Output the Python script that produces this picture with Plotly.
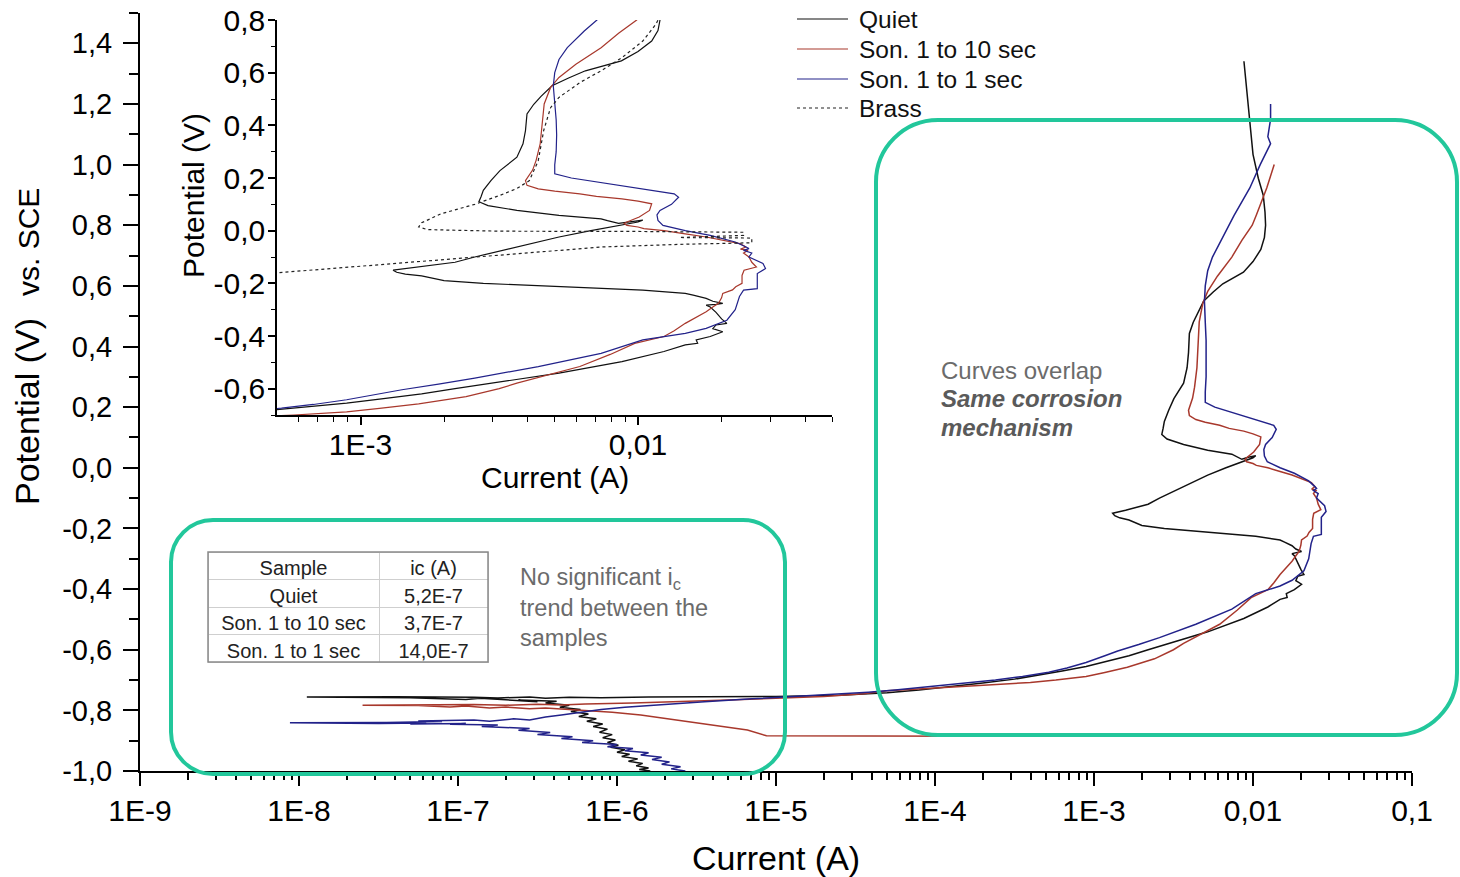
import plotly.graph_objects as go

W, H = 1460, 877

# ---------------- data: (potential V vs SCE, current A) in scan order ----------------
quiet = [
    (-1.000, 1.62e-6), (-0.995, 1.38e-6), (-0.990, 1.58e-6), (-0.983, 1.32e-6), (-0.975, 1.45e-6),
    (-0.968, 1.18e-6), (-0.960, 1.35e-6), (-0.952, 1.07e-6), (-0.945, 1.20e-6), (-0.938, 1.00e-6),
    (-0.930, 1.12e-6), (-0.922, 9.12e-7), (-0.915, 1.02e-6), (-0.906, 8.71e-7), (-0.898, 9.77e-7),
    (-0.890, 8.13e-7), (-0.880, 9.33e-7), (-0.872, 7.76e-7), (-0.862, 8.71e-7), (-0.853, 7.08e-7),
    (-0.845, 8.13e-7), (-0.836, 6.46e-7), (-0.828, 7.41e-7), (-0.820, 5.75e-7), (-0.812, 6.61e-7),
    (-0.804, 5.13e-7), (-0.797, 5.89e-7), (-0.790, 4.37e-7), (-0.783, 5.01e-7), (-0.776, 3.55e-7),
    (-0.770, 4.17e-7), (-0.766, 2.40e-7), (-0.772, 3.16e-7), (-0.762, 1.66e-7), (-0.768, 2.19e-7),
    (-0.760, 1.38e-7), (-0.764, 1.12e-7), (-0.758, 5.01e-8), (-0.756, 1.12e-8), (-0.755, 3.98e-8),
    (-0.757, 1.26e-7), (-0.759, 1.78e-7), (-0.756, 2.82e-7), (-0.760, 3.55e-7), (-0.757, 5.01e-7),
    (-0.758, 7.94e-7), (-0.756, 1.58e-6), (-0.755, 3.98e-6), (-0.754, 1.00e-5), (-0.750, 2.51e-5),
    (-0.742, 5.01e-5), (-0.733, 7.94e-5), (-0.722, 1.26e-4), (-0.710, 2.00e-4), (-0.697, 3.16e-4),
    (-0.684, 4.47e-4), (-0.670, 6.31e-4), (-0.655, 8.91e-4), (-0.640, 1.17e-3), (-0.620, 1.66e-3),
    (-0.600, 2.19e-3), (-0.575, 3.16e-3), (-0.541, 5.19e-3), (-0.497, 8.75e-3),
    (-0.459, 1.24e-2), (-0.434, 1.48e-2), (-0.428, 1.64e-2), (-0.415, 1.62e-2), (-0.402, 1.82e-2),
    (-0.384, 2.02e-2), (-0.372, 1.86e-2), (-0.358, 1.91e-2), (-0.352, 2.09e-2), (-0.335, 2.00e-2),
    (-0.310, 1.91e-2), (-0.290, 1.82e-2), (-0.283, 1.76e-2), (-0.280, 1.91e-2), (-0.276, 2.02e-2),
    (-0.268, 1.86e-2), (-0.257, 1.76e-2), (-0.245, 1.58e-2), (-0.238, 1.48e-2), (-0.226, 1.04e-2),
    (-0.213, 5.19e-3), (-0.205, 3.55e-3), (-0.200, 2.77e-3), (-0.190, 2.00e-3), (-0.172, 1.66e-3),
    (-0.165, 1.45e-3), (-0.158, 1.35e-3), (-0.150, 1.31e-3), (-0.140, 1.58e-3), (-0.120, 2.19e-3),
    (-0.100, 2.58e-3), (-0.062, 3.66e-3), (-0.024, 5.19e-3), (0.000, 6.76e-3), (0.020, 8.71e-3),
    (0.033, 1.00e-2), (0.040, 1.04e-2), (0.035, 9.33e-3), (0.028, 8.51e-3), (0.038, 7.76e-3),
    (0.045, 7.36e-3), (0.058, 5.19e-3), (0.077, 3.66e-3), (0.095, 2.88e-3), (0.110, 2.67e-3),
    (0.130, 2.72e-3), (0.153, 2.77e-3), (0.190, 2.95e-3), (0.228, 3.18e-3), (0.279, 3.66e-3),
    (0.330, 3.85e-3), (0.380, 3.93e-3), (0.443, 3.98e-3), (0.480, 4.21e-3), (0.510, 4.47e-3),
    (0.550, 4.90e-3), (0.580, 5.62e-3), (0.607, 6.46e-3), (0.645, 8.71e-3), (0.680, 1.00e-2),
    (0.720, 1.12e-2), (0.760, 1.18e-2), (0.800, 1.20e-2), (0.843, 1.19e-2), (0.899, 1.16e-2),
    (0.955, 1.08e-2), (1.034, 1.00e-2), (1.148, 9.55e-3), (1.262, 9.12e-3), (1.341, 8.77e-3),
]

son_1_to_10 = [
    (-0.885, 1.82e-4), (-0.885, 3.98e-5), (-0.884, 8.71e-6), (-0.865, 6.61e-6), (-0.848, 3.98e-6),
    (-0.832, 2.51e-6), (-0.815, 1.41e-6), (-0.806, 9.33e-7), (-0.800, 6.31e-7), (-0.797, 4.79e-7),
    (-0.792, 3.55e-7), (-0.795, 2.82e-7), (-0.789, 2.00e-7), (-0.792, 1.58e-7), (-0.786, 1.12e-7),
    (-0.789, 8.91e-8), (-0.784, 5.62e-8), (-0.783, 2.51e-8), (-0.782, 6.31e-8), (-0.781, 1.26e-7),
    (-0.783, 2.00e-7), (-0.780, 3.16e-7), (-0.782, 4.47e-7), (-0.779, 6.31e-7), (-0.776, 1.26e-6),
    (-0.772, 2.51e-6), (-0.766, 5.01e-6), (-0.760, 1.00e-5), (-0.754, 2.00e-5), (-0.745, 3.55e-5),
    (-0.735, 5.01e-5), (-0.728, 8.91e-5), (-0.722, 1.41e-4), (-0.715, 2.51e-4), (-0.708, 3.98e-4),
    (-0.700, 5.75e-4), (-0.688, 8.91e-4), (-0.675, 1.17e-3), (-0.658, 1.62e-3), (-0.630, 2.40e-3),
    (-0.600, 3.16e-3), (-0.579, 3.66e-3), (-0.550, 4.68e-3), (-0.516, 6.17e-3),
    (-0.470, 7.94e-3), (-0.428, 9.73e-3), (-0.402, 1.24e-2), (-0.380, 1.35e-2), (-0.352, 1.48e-2),
    (-0.330, 1.62e-2), (-0.308, 1.76e-2), (-0.290, 1.86e-2), (-0.276, 1.95e-2), (-0.255, 2.00e-2),
    (-0.238, 2.02e-2), (-0.225, 2.19e-2), (-0.213, 2.25e-2), (-0.200, 2.37e-2), (-0.170, 2.37e-2),
    (-0.150, 2.41e-2), (-0.138, 2.67e-2), (-0.120, 2.57e-2), (-0.100, 2.51e-2), (-0.085, 2.40e-2),
    (-0.075, 2.49e-2), (-0.070, 2.34e-2), (-0.062, 2.45e-2), (-0.049, 2.33e-2), (-0.035, 2.00e-2),
    (-0.024, 1.76e-2), (-0.012, 1.48e-2), (0.000, 1.24e-2), (0.008, 1.05e-2), (0.014, 1.00e-2),
    (0.020, 9.12e-3), (0.027, 8.91e-3), (0.033, 9.12e-3), (0.052, 1.01e-2), (0.077, 1.10e-2),
    (0.102, 1.12e-2), (0.112, 1.00e-2), (0.121, 8.75e-3), (0.130, 7.08e-3), (0.140, 6.17e-3),
    (0.150, 5.01e-3), (0.159, 4.37e-3), (0.172, 3.98e-3), (0.190, 3.93e-3), (0.230, 4.17e-3),
    (0.266, 4.29e-3), (0.330, 4.44e-3), (0.418, 4.52e-3), (0.481, 4.59e-3), (0.544, 4.84e-3),
    (0.582, 5.19e-3), (0.632, 5.97e-3), (0.695, 7.36e-3), (0.750, 8.51e-3), (0.800, 9.89e-3),
    (0.834, 1.05e-2), (0.923, 1.22e-2), (1.000, 1.36e-2),
]

son_1_to_1 = [
    (-1.000, 2.69e-6), (-0.993, 2.19e-6), (-0.986, 2.51e-6), (-0.978, 1.91e-6), (-0.970, 2.14e-6),
    (-0.962, 1.66e-6), (-0.955, 1.91e-6), (-0.947, 1.41e-6), (-0.940, 1.58e-6), (-0.933, 1.12e-6),
    (-0.926, 1.26e-6), (-0.920, 8.71e-7), (-0.913, 1.00e-6), (-0.906, 6.03e-7), (-0.900, 7.08e-7),
    (-0.893, 4.47e-7), (-0.887, 5.25e-7), (-0.880, 3.16e-7), (-0.873, 3.80e-7), (-0.866, 2.40e-7),
    (-0.860, 2.82e-7), (-0.853, 1.41e-7), (-0.848, 1.78e-7), (-0.846, 8.91e-8), (-0.843, 1.12e-7),
    (-0.845, 5.01e-8), (-0.842, 6.31e-8), (-0.843, 3.16e-8), (-0.841, 8.77e-9), (-0.840, 3.55e-8),
    (-0.837, 7.94e-8), (-0.835, 5.62e-8), (-0.832, 1.26e-7), (-0.836, 1.58e-7), (-0.828, 2.24e-7),
    (-0.832, 2.82e-7), (-0.822, 3.55e-7), (-0.815, 4.47e-7), (-0.806, 6.03e-7), (-0.797, 7.94e-7),
    (-0.790, 1.12e-6), (-0.782, 1.78e-6), (-0.772, 3.55e-6), (-0.762, 7.08e-6), (-0.755, 1.26e-5),
    (-0.748, 2.24e-5), (-0.740, 3.80e-5), (-0.733, 5.62e-5), (-0.725, 7.94e-5), (-0.717, 1.12e-4),
    (-0.708, 1.66e-4), (-0.700, 2.40e-4), (-0.688, 3.55e-4), (-0.674, 5.19e-4), (-0.660, 6.76e-4),
    (-0.642, 8.91e-4), (-0.620, 1.17e-3), (-0.604, 1.41e-3), (-0.583, 1.91e-3), (-0.560, 2.58e-3),
    (-0.516, 4.37e-3),
    (-0.466, 7.36e-3), (-0.415, 1.04e-2), (-0.390, 1.48e-2), (-0.371, 1.76e-2), (-0.340, 2.09e-2),
    (-0.300, 2.24e-2), (-0.250, 2.32e-2), (-0.226, 2.40e-2), (-0.220, 2.69e-2), (-0.190, 2.69e-2),
    (-0.163, 2.69e-2), (-0.144, 2.88e-2), (-0.125, 2.82e-2), (-0.100, 2.51e-2), (-0.085, 2.57e-2),
    (-0.075, 2.40e-2), (-0.068, 2.51e-2), (-0.062, 2.45e-2), (-0.043, 2.24e-2), (-0.018, 1.82e-2),
    (0.000, 1.48e-2), (0.020, 1.23e-2), (0.039, 1.18e-2), (0.060, 1.17e-2), (0.077, 1.20e-2),
    (0.100, 1.32e-2), (0.127, 1.40e-2), (0.140, 1.35e-2), (0.155, 1.10e-2), (0.170, 8.71e-3),
    (0.185, 7.08e-3), (0.200, 5.75e-3), (0.216, 5.01e-3), (0.250, 5.01e-3), (0.300, 5.07e-3),
    (0.363, 5.09e-3), (0.420, 5.07e-3), (0.480, 5.01e-3), (0.550, 4.95e-3), (0.600, 5.01e-3),
    (0.650, 5.19e-3), (0.695, 5.56e-3), (0.758, 6.40e-3), (0.800, 7.11e-3), (0.832, 7.59e-3),
    (0.923, 9.55e-3), (1.000, 1.11e-2), (1.069, 1.29e-2), (1.092, 1.24e-2), (1.150, 1.29e-2),
    (1.200, 1.29e-2),
]

brass = [
    (-0.165, 3.98e-4), (-0.160, 5.01e-4), (-0.135, 1.00e-3), (-0.109, 2.00e-3), (-0.084, 3.98e-3),
    (-0.062, 7.41e-3), (-0.052, 1.41e-2), (-0.046, 2.57e-2), (-0.028, 2.57e-2), (-0.026, 1.41e-2),
    (-0.018, 2.40e-2), (-0.006, 2.40e-2), (-0.003, 1.00e-2), (-0.002, 3.16e-3), (0.004, 1.74e-3),
    (0.014, 1.62e-3), (0.030, 1.66e-3), (0.064, 1.95e-3), (0.100, 2.58e-3), (0.134, 3.18e-3),
    (0.160, 3.66e-3), (0.190, 4.06e-3), (0.266, 4.37e-3), (0.380, 4.57e-3), (0.467, 4.84e-3),
    (0.506, 5.19e-3), (0.563, 6.18e-3), (0.607, 7.36e-3), (0.657, 8.75e-3), (0.720, 1.04e-2),
    (0.784, 1.16e-2), (0.800, 1.18e-2),
]

series_names = ["Quiet", "Son. 1 to 10 sec", "Son. 1 to 1 sec", "Brass"]
series_colors = ["#111111", "#a8382c", "#22228a", "#222222"]

table_header = ["Sample", "ic (A)"]
table_samples = ["Quiet", "Son. 1 to 10 sec", "Son. 1 to 1 sec"]
table_ic = ["5,2E-7", "3,7E-7", "14,0E-7"]

main_x_tickvals = [1e-9, 1e-8, 1e-7, 1e-6, 1e-5, 1e-4, 1e-3, 1e-2, 1e-1]
main_x_ticktext = ["1E-9", "1E-8", "1E-7", "1E-6", "1E-5", "1E-4", "1E-3", "0,01", "0,1"]
main_y_tickvals = [-1.0, -0.8, -0.6, -0.4, -0.2, 0.0, 0.2, 0.4, 0.6, 0.8, 1.0, 1.2, 1.4]
main_y_ticktext = ["-1,0", "-0,8", "-0,6", "-0,4", "-0,2", "0,0", "0,2", "0,4", "0,6", "0,8", "1,0", "1,2", "1,4"]
inset_x_tickvals = [1e-3, 1e-2]
inset_x_ticktext = ["1E-3", "0,01"]
inset_y_tickvals = [-0.6, -0.4, -0.2, 0.0, 0.2, 0.4, 0.6, 0.8]
inset_y_ticktext = ["-0,6", "-0,4", "-0,2", "0,0", "0,2", "0,4", "0,6", "0,8"]


def unzip(pairs):
    return [p[1] for p in pairs], [p[0] for p in pairs]


def fx(x):
    return x / W


def fy(y):
    return 1 - y / H


FONT = "Liberation Sans, Arial, Helvetica, sans-serif"
GREEN = "#22c79b"

fig = go.Figure()

curves = [quiet, son_1_to_10, son_1_to_1]
for pairs, name, color in zip(curves, series_names[:3], series_colors[:3]):
    cx, cy = unzip(pairs)
    fig.add_trace(go.Scatter(x=cx, y=cy, mode="lines", name=name, xaxis="x", yaxis="y",
                             line=dict(color=color, width=1.5), showlegend=False))
for pairs, name, color in zip(curves, series_names[:3], series_colors[:3]):
    cx, cy = unzip(pairs)
    fig.add_trace(go.Scatter(x=cx, y=cy, mode="lines", name=name, xaxis="x2", yaxis="y2",
                             line=dict(color=color, width=1.2), showlegend=False))
bx, by = unzip(brass)
fig.add_trace(go.Scatter(x=bx, y=by, mode="lines", name=series_names[3], xaxis="x2", yaxis="y2",
                         line=dict(color=series_colors[3], width=1.2, dash="dot"), showlegend=False))

# table of corrosion currents
fig.add_trace(go.Table(
    domain=dict(x=[fx(208), fx(488)], y=[fy(664), fy(552)]),
    columnwidth=[171, 109],
    header=dict(values=table_header, height=27.5, align="center",
                font=dict(family=FONT, size=20, color="#222"),
                fill_color="white", line=dict(color="#cfcfcf", width=1)),
    cells=dict(values=[table_samples, table_ic], height=27.5, align="center",
               font=dict(family=FONT, size=20, color="#222"),
               fill_color="white", line=dict(color="#cfcfcf", width=1)),
))

main_x_minor = [k * 10.0 ** e for e in range(-9, -1) for k in range(2, 10)]
main_y_minor = [round(-0.9 + 0.2 * i, 1) for i in range(13)]
inset_x_minor = [6e-4, 7e-4, 8e-4, 9e-4] + [k * 1e-3 for k in range(2, 10)] + [k * 1e-2 for k in range(2, 6)]
inset_y_minor = [round(-0.7 + 0.2 * i, 1) for i in range(8)]

axis_common = dict(showline=True, linecolor="black", showgrid=False, zeroline=False,
                   ticks="outside", tickcolor="black", automargin=False)

fig.update_layout(
    width=W, height=H,
    margin=dict(l=0, r=0, t=0, b=0, autoexpand=False),
    paper_bgcolor="white", plot_bgcolor="rgba(0,0,0,0)",
    showlegend=False,
    font=dict(family=FONT, color="black"),
    xaxis=dict(axis_common, type="log", range=[-9, -1], domain=[fx(140), fx(1412)], anchor="y",
               linewidth=2, ticklen=13, tickwidth=2,
               tickmode="array", tickvals=main_x_tickvals, ticktext=main_x_ticktext,
               tickfont=dict(size=30, color="black"), ticklabelstandoff=-1,
               minor=dict(tickmode="array", tickvals=main_x_minor, ticks="outside", ticklen=7,
                          tickwidth=1.5, tickcolor="black", showgrid=False)),
    yaxis=dict(axis_common, range=[-1.0, 1.5], domain=[fy(771), fy(13)], anchor="x",
               linewidth=2, ticklen=15, tickwidth=2,
               tickmode="array", tickvals=main_y_tickvals, ticktext=main_y_ticktext,
               tickfont=dict(size=29, color="black"), ticklabelstandoff=5,
               minor=dict(tickmode="array", tickvals=main_y_minor, ticks="outside", ticklen=9,
                          tickwidth=1.5, tickcolor="black", showgrid=False)),
    xaxis2=dict(axis_common, type="log", range=[-3.30103, -1.30103], domain=[fx(277), fx(832)],
                anchor="y2", linewidth=1.5, ticklen=8, tickwidth=1.5,
                tickmode="array", tickvals=inset_x_tickvals, ticktext=inset_x_ticktext,
                tickfont=dict(size=30, color="black"), ticklabelstandoff=-6,
                minor=dict(tickmode="array", tickvals=inset_x_minor, ticks="outside", ticklen=5,
                           tickwidth=1.2, tickcolor="black", showgrid=False)),
    yaxis2=dict(axis_common, range=[-0.7, 0.8], domain=[fy(415), fy(20)], anchor="x2",
                linewidth=1.5, ticklen=7, tickwidth=1.5,
                tickmode="array", tickvals=inset_y_tickvals, ticktext=inset_y_ticktext,
                tickfont=dict(size=30, color="black"), ticklabelstandoff=-3,
                minor=dict(tickmode="array", tickvals=inset_y_minor, ticks="outside", ticklen=4,
                           tickwidth=1.2, tickcolor="black", showgrid=False)),
)

ann = []
# axis titles
ann.append(dict(text="Current (A)", x=fx(776), y=fy(858), xref="paper", yref="paper",
                showarrow=False, font=dict(size=34, color="black"), xanchor="center", yanchor="middle"))
ann.append(dict(text="Potential (V)", x=fx(27), y=fy(412), xref="paper", yref="paper", textangle=-90,
                showarrow=False, font=dict(size=34, color="black"), xanchor="center", yanchor="middle"))
ann.append(dict(text="vs. SCE", x=fx(29), y=fy(242), xref="paper", yref="paper", textangle=-90,
                showarrow=False, font=dict(size=30, color="black"), xanchor="center", yanchor="middle"))
ann.append(dict(text="Current (A)", x=fx(555), y=fy(477), xref="paper", yref="paper",
                showarrow=False, font=dict(size=30, color="black"), xanchor="center", yanchor="middle"))
ann.append(dict(text="Potential (V)", x=fx(193), y=fy(196), xref="paper", yref="paper", textangle=-90,
                showarrow=False, font=dict(size=30, color="black"), xanchor="center", yanchor="middle"))

# legend (drawn manually)
shapes = []
legend_rows = [19, 49, 79, 108]
for name, color, row, dash in zip(series_names, series_colors, legend_rows, ["solid", "solid", "solid", "dot"]):
    shapes.append(dict(type="line", xref="paper", yref="paper", x0=fx(797), x1=fx(848), y0=fy(row), y1=fy(row),
                       line=dict(color=color, width=1.2, dash=dash)))
    ann.append(dict(text=name, x=fx(857), y=fy(row), xref="paper", yref="paper", showarrow=False,
                    font=dict(size=24.5, color="#111"), xanchor="left", yanchor="middle"))

# comments
ann.append(dict(text="Curves overlap", x=fx(939), y=fy(370), xref="paper", yref="paper", showarrow=False,
                font=dict(size=24, color="#6b6b6b"), xanchor="left", yanchor="middle"))
ann.append(dict(text="<b><i>Same corrosion</i></b>", x=fx(939), y=fy(398), xref="paper", yref="paper",
                showarrow=False, font=dict(size=24, color="#5a5a5a"), xanchor="left", yanchor="middle"))
ann.append(dict(text="<b><i>mechanism</i></b>", x=fx(939), y=fy(427), xref="paper", yref="paper",
                showarrow=False, font=dict(size=24, color="#5a5a5a"), xanchor="left", yanchor="middle"))
ann.append(dict(text="No significant i<sub>c</sub><br>trend between the<br>samples",
                x=fx(518), y=fy(607), xref="paper", yref="paper", align="left",
                showarrow=False, font=dict(size=23.5, color="#6b6b6b"), xanchor="left", yanchor="middle"))


def rounded_rect(x0, y0, x1, y1, r):
    k = 0.5523 * r
    p = []
    p.append(f"M {fx(x0 + r)},{fy(y0)}")
    p.append(f"L {fx(x1 - r)},{fy(y0)}")
    p.append(f"C {fx(x1 - r + k)},{fy(y0)} {fx(x1)},{fy(y0 + r - k)} {fx(x1)},{fy(y0 + r)}")
    p.append(f"L {fx(x1)},{fy(y1 - r)}")
    p.append(f"C {fx(x1)},{fy(y1 - r + k)} {fx(x1 - r + k)},{fy(y1)} {fx(x1 - r)},{fy(y1)}")
    p.append(f"L {fx(x0 + r)},{fy(y1)}")
    p.append(f"C {fx(x0 + r - k)},{fy(y1)} {fx(x0)},{fy(y1 - r + k)} {fx(x0)},{fy(y1 - r)}")
    p.append(f"L {fx(x0)},{fy(y0 + r)}")
    p.append(f"C {fx(x0)},{fy(y0 + r - k)} {fx(x0 + r - k)},{fy(y0)} {fx(x0 + r)},{fy(y0)}")
    p.append("Z")
    return " ".join(p)


shapes.append(dict(type="path", xref="paper", yref="paper", path=rounded_rect(171, 520, 785, 774, 42),
                   line=dict(color=GREEN, width=4), layer="above"))
shapes.append(dict(type="path", xref="paper", yref="paper", path=rounded_rect(876, 120, 1457, 735, 62),
                   line=dict(color=GREEN, width=4), layer="above"))
shapes.append(dict(type="rect", xref="paper", yref="paper", x0=fx(208), x1=fx(488), y0=fy(662), y1=fy(552),
                   line=dict(color="#8a8a8a", width=1.5), layer="above"))

fig.update_layout(annotations=ann, shapes=shapes)

fig.write_html("out.html")
